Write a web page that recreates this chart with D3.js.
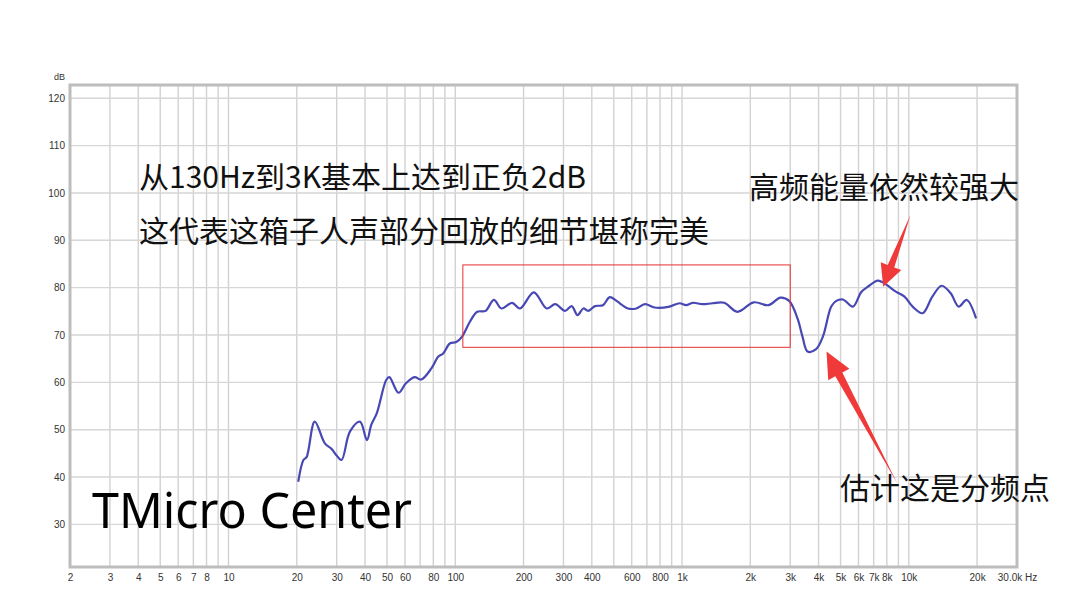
<!DOCTYPE html>
<html><head><meta charset="utf-8">
<script src="https://cdn.jsdelivr.net/npm/d3@7"></script>
<style>
html,body{margin:0;padding:0;background:#fff;}
svg{display:block;}
</style></head>
<body>
<svg id="chart" width="1084" height="616"></svg>
<script>
// ---- data ----
const freqs = [20.3,21.4,22.1,24.0,26.6,28.4,29.9,31.5,34.3,38.0,40.8,42.6,45.1,49.6,51.2,56.2,60.6,66.1,70.8,78.6,84.0,88.4,94.6,101,107,116,125,136,148,160,178,193,222,253,276,305,326,346,367,386,413,448,480,514,578,628,686,758,881,975,1043,1115,1233,1362,1534,1754,2069,2409,2715,2967,3230,3400,3580,3900,4175,4550,4790,5124,5673,6172,6600,7300,7810,8800,9570,10400,11500,12700,13950,15300,16600,18000,19800];
const levels = [39.0,43.6,44.2,51.7,47.1,46.0,44.6,43.6,49.6,51.7,47.8,51.0,53.5,60.5,61.1,57.8,59.8,61.1,60.6,63.0,65.4,66.1,68.2,68.5,69.6,72.8,74.9,75.1,77.4,75.6,76.8,75.6,79.0,75.6,76.5,75.1,76.1,74.2,75.6,75.1,76.1,76.3,78.0,77.2,75.6,75.6,76.5,75.8,76.0,76.7,76.3,76.8,76.5,76.7,76.8,74.9,76.9,76.3,77.9,77.2,73.5,69.6,66.5,67.0,69.6,76.0,77.2,77.5,76.0,79.1,80.2,81.5,80.9,79.1,78.1,76.0,74.6,78.1,80.4,78.8,76.0,77.4,73.5];
const yTicks = [30,40,50,60,70,80,90,100,110,120];
const xTickValues = [2,3,4,5,6,7,8,10,20,30,40,50,60,80,100,200,300,400,600,800,1000,2000,3000,4000,5000,6000,7000,8000,10000,20000,30000];
const xTickLabels = ["2","3","4","5","6","7","8","10","20","30","40","50","60","80","100","200","300","400","600","800","1k","2k","3k","4k","5k","6k","7k","8k","10k","20k","30.0k Hz"];
const xGridValues = [2,3,4,5,6,7,8,9,10,20,30,40,50,60,70,80,90,100,200,300,400,500,600,700,800,900,1000,2000,3000,4000,5000,6000,7000,8000,9000,10000,20000];
// annotation anchors in data space
const boxFreq = [108, 3000];
const boxDb = [67.4, 84.8];
const arrowHigh = {from:[10170, 95.35], to:[7710, 80.2]};
const arrowCross = {from:[8885, 38.7], to:[4336, 66.5]};
const textLine1 = "从130Hz到3K基本上达到正负2dB";
const textLine2 = "这代表这箱子人声部分回放的细节堪称完美";
const textHigh = "高频能量依然较强大";
const textCross = "估计这是分频点";
const brand = "TMicro Center";

// ---- layout ----
const L = 70, R = 1017, T = 85, B = 567;
const svg = d3.select("#chart");
const x = d3.scaleLog().domain([2, 30000]).range([L, R]);
const y = d3.scaleLinear().domain([21, 122.8]).range([B, T]);

// grid
const grid = svg.append("g");
grid.selectAll("line.v").data(xGridValues).join("line")
  .attr("x1", d => x(d)).attr("x2", d => x(d)).attr("y1", T).attr("y2", B)
  .attr("stroke", "#d2d2d2").attr("stroke-width", 1.4);
grid.selectAll("line.h").data(yTicks).join("line")
  .attr("x1", L).attr("x2", R).attr("y1", d => y(d)).attr("y2", d => y(d))
  .attr("stroke", "#d6d6d6").attr("stroke-width", 1.4);

// frame
svg.append("rect").attr("x", L).attr("y", T).attr("width", R - L).attr("height", B - T)
  .attr("fill", "none").attr("stroke", "#bdbdbd").attr("stroke-width", 3);

// axes
const xAxis = d3.axisBottom(x).tickValues(xTickValues)
  .tickFormat((d, i) => xTickLabels[i]).tickSize(0).tickPadding(0);
const gx = svg.append("g").attr("transform", `translate(0,${B + 7})`).call(xAxis);
gx.select(".domain").remove();
gx.selectAll("text").attr("fill", "#333").attr("font-size", 10)
  .attr("font-family", "Liberation Sans, Arial, sans-serif").attr("dy", "0.71em");

const yAxis = d3.axisLeft(y).tickValues(yTicks).tickSize(0).tickPadding(0);
const gy = svg.append("g").attr("transform", `translate(${L - 5},0)`).call(yAxis);
gy.select(".domain").remove();
gy.selectAll("text").attr("fill", "#333").attr("font-size", 10)
  .attr("font-family", "Liberation Sans, Arial, sans-serif");
svg.append("text").attr("x", L - 5).attr("y", T - 5).attr("text-anchor", "end")
  .attr("font-size", 9).attr("fill", "#333")
  .attr("font-family", "Liberation Sans, Arial, sans-serif").text("dB");

// curve
const pts = freqs.map((f, i) => [f, levels[i]]);
const line = d3.line().x(d => x(d[0])).y(d => y(d[1])).curve(d3.curveCatmullRom.alpha(0.5));
svg.append("path").attr("d", line(pts)).attr("fill", "none")
  .attr("stroke", "#4848b4").attr("stroke-width", 2.2).attr("stroke-linejoin", "round");

// red box
svg.append("rect").attr("x", x(boxFreq[0])).attr("y", y(boxDb[1]))
  .attr("width", x(boxFreq[1]) - x(boxFreq[0])).attr("height", y(boxDb[0]) - y(boxDb[1]))
  .attr("fill", "none").attr("stroke", "#e53030").attr("stroke-width", 1);

// arrows
function arrow(a, headLen, headHalf, shaftHalf) {
  const x0 = x(a.from[0]), y0 = y(a.from[1]), x1 = x(a.to[0]), y1 = y(a.to[1]);
  const dx = x1 - x0, dy = y1 - y0, len = Math.hypot(dx, dy);
  const ux = dx / len, uy = dy / len, nx = -uy, ny = ux;
  const bx = x1 - ux * headLen, by = y1 - uy * headLen;
  const p = [
    [x0, y0],
    [bx + nx * shaftHalf, by + ny * shaftHalf],
    [bx + nx * headHalf, by + ny * headHalf],
    [x1, y1],
    [bx - nx * headHalf, by - ny * headHalf],
    [bx - nx * shaftHalf, by - ny * shaftHalf]
  ];
  svg.append("polygon").attr("points", p.map(q => q.join(",")).join(" "))
    .attr("fill", "#f03a3a");
}
arrow(arrowHigh, 22, 11, 3.5);
arrow(arrowCross, 26, 12, 4);

// texts
const cjk = "'Noto Sans CJK SC', 'Noto Sans', sans-serif";
svg.append("text").attr("x", 139).attr("y", 188).attr("font-size", 30).attr("font-family", cjk).attr("fill", "#111").text(textLine1);
svg.append("text").attr("x", 139).attr("y", 242).attr("font-size", 30).attr("font-family", cjk).attr("fill", "#111").text(textLine2);
svg.append("text").attr("x", 749).attr("y", 198).attr("font-size", 30).attr("font-family", cjk).attr("fill", "#111").text(textHigh);
svg.append("text").attr("x", 840).attr("y", 499).attr("font-size", 30).attr("font-family", cjk).attr("fill", "#111").text(textCross);
svg.append("text").attr("x", 92).attr("y", 528).attr("font-size", 50).attr("font-family", "'Noto Sans', sans-serif")
  .attr("fill", "#000").attr("textLength", 320).attr("lengthAdjust", "spacingAndGlyphs").text(brand);
</script>
</body></html>
